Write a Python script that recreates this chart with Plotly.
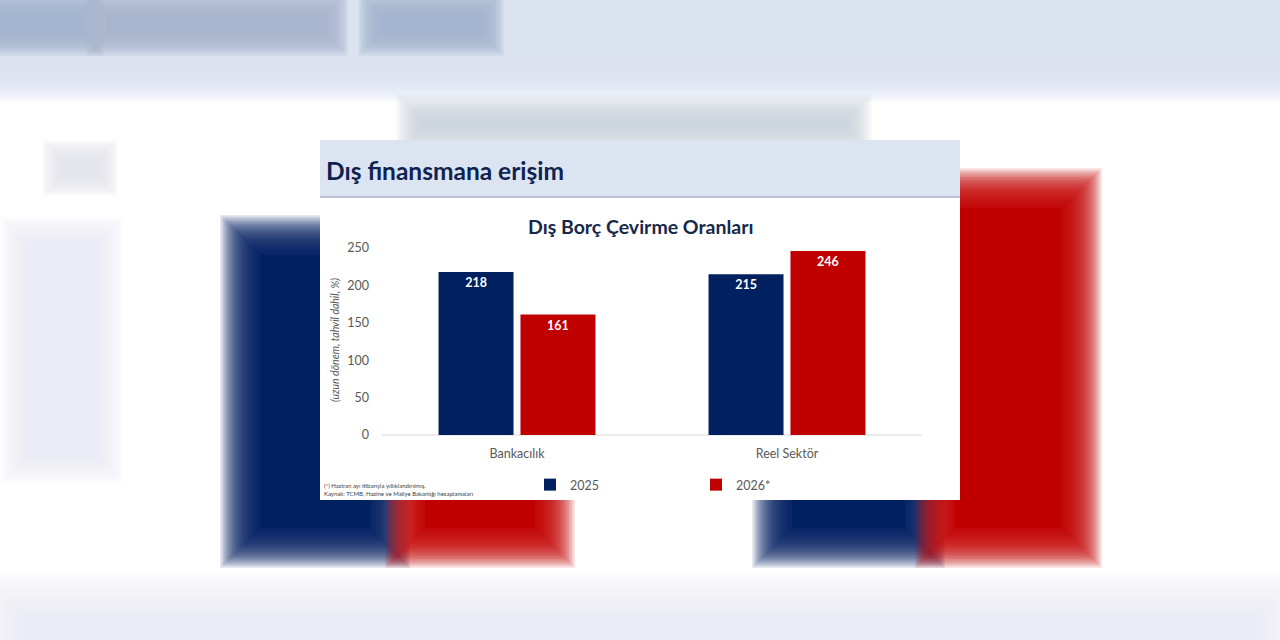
import plotly.graph_objects as go

# ---------------- data ----------------
categories = ["Bankacılık", "Reel Sektör"]
series_names = ["2025", "2026*"]
values_2025 = [218, 215]
values_2026 = [161, 246]
y_tick_values = [0, 50, 100, 150, 200, 250]

page_title = "Dış finansmana erişim"
chart_title = "Dış Borç Çevirme Oranları"
y_title = "(uzun dönem, tahvil dahil, %)"
footnotes = ["(*) Haziran ayı itibarıyla yıllıklandırılmış.",
             "Kaynak: TCMB, Hazine ve Maliye Bakanlığı hesaplamaları"]

NAVY = "#002060"
RED = "#C00000"
FONT = "Lato"

# plot area in pixels
PL, PR, PT, PB = 382, 922, 248, 435
W, H = 1280, 640


def px(x):
    return (x - PL) / (PR - PL)


def py(y):
    return (PB - y) / (PB - PT)


shapes = []


def rect(x0, y0, x1, y1, color, opacity=1.0, line=None):
    shapes.append(dict(type="rect", xref="paper", yref="paper",
                       x0=px(x0), x1=px(x1), y0=py(y1), y1=py(y0),
                       fillcolor=color, opacity=opacity,
                       line=line or dict(width=0), layer="below"))


def blur_rect(x0, y0, x1, y1, color, r=18, n=16, a=0.18, core=True):
    for i in range(n):
        e = r - 2 * r * i / (n - 1)
        rect(x0 - e, y0 - e, x1 + e, y1 + e, color, a)
    if core:
        rect(x0 + r, y0 + r, x1 - r, y1 - r, color, 1.0)


# ---- blurred background (page behind the chart) ----
rect(0, 0, W, H, "#ffffff")
blur_rect(-60, -60, W + 60, 80, "#dce3f0", r=22, a=0.2)
blur_rect(-20, 2, 92, 44, "#a3b2cc", r=12, a=0.16, core=False)
blur_rect(98, 4, 336, 44, "#a6b4cd", r=12, a=0.16, core=False)
blur_rect(370, 4, 492, 44, "#a3b2cc", r=12, a=0.16, core=False)
blur_rect(410, 108, 858, 140, "#c9ced7", r=14, a=0.1, core=False)
blur_rect(52, 150, 108, 186, "#dfe4ea", r=10, a=0.1, core=False)
blur_rect(14, 230, 110, 470, "#e9ecf1", r=14, a=0.1, core=False)
blur_rect(240, 235, 390, 548, NAVY, r=20, n=28, a=0.1)
blur_rect(405, 330, 555, 548, RED, r=20, n=28, a=0.1)
blur_rect(772, 320, 925, 548, NAVY, r=20, n=28, a=0.1)
blur_rect(935, 188, 1082, 548, RED, r=20, n=28, a=0.1)
blur_rect(0, 595, 1280, 700, "#eef0f3", r=24, a=0.1, core=False)

# ---- chart panel ----
rect(320, 140, 960, 500, "#ffffff")
rect(320, 140, 960, 197, "#dde4f1")
shapes.append(dict(type="line", xref="paper", yref="paper",
                   x0=px(320), x1=px(960), y0=py(197), y1=py(197),
                   line=dict(color="#a7b5cb", width=1.5), layer="below"))
shapes.append(dict(type="line", xref="paper", yref="paper",
                   x0=px(382), x1=px(922), y0=py(435), y1=py(435),
                   line=dict(color="#d9d9d9", width=1), layer="below"))

fig = go.Figure()
for name, vals, col in [(series_names[0], values_2025, NAVY),
                        (series_names[1], values_2026, RED)]:
    fig.add_bar(x=categories, y=vals, name=name, marker_color=col,
                marker_line_width=0,
                text=vals, texttemplate="<b>%{text}</b>",
                textposition="inside", insidetextanchor="end",
                textfont=dict(color="white", size=12.5, family=FONT),
                cliponaxis=False)

annotations = [
    dict(text="<b>" + page_title + "</b>", x=px(324), y=py(170),
         xanchor="left", yanchor="middle",
         font=dict(size=24.5, color="#0f2350", family=FONT)),
    dict(text="<b>" + chart_title + "</b>", x=px(640), y=py(226),
         xanchor="center", yanchor="middle",
         font=dict(size=19.5, color="#17284a", family=FONT)),
    dict(text="<i>" + y_title + "</i>", x=px(335), y=py(340), textangle=-90,
         xanchor="center", yanchor="middle",
         font=dict(size=10.5, color="#595959", family=FONT)),
    dict(text=footnotes[0], x=px(322), y=py(485), xanchor="left", yanchor="middle",
         font=dict(size=6, color="#404040", family=FONT)),
    dict(text=footnotes[1], x=px(322), y=py(493), xanchor="left", yanchor="middle",
         font=dict(size=6, color="#404040", family=FONT)),
]
for a in annotations:
    a.update(xref="paper", yref="paper", showarrow=False)

fig.update_layout(
    width=W, height=H,
    margin=dict(l=PL, r=W - PR, t=PT, b=H - PB, pad=0),
    paper_bgcolor="white", plot_bgcolor="rgba(0,0,0,0)",
    barmode="group", bargap=0.393, bargroupgap=0.085,
    shapes=shapes, annotations=annotations,
    font=dict(family=FONT, color="#595959", size=12),
    legend=dict(orientation="h", x=px(530), y=py(470), xanchor="left", yanchor="top",
                entrywidth=121, entrywidthmode="pixels", itemwidth=30,
                bgcolor="rgba(0,0,0,0)", font=dict(size=12.5, color="#595959")),
    xaxis=dict(showgrid=False, showline=False, zeroline=False, ticks="",
               tickfont=dict(size=12.5, color="#595959"), ticklabelstandoff=9,
               fixedrange=True),
    yaxis=dict(range=[0, 250], tickvals=y_tick_values, showgrid=False,
               showline=False, zeroline=False, ticks="",
               tickfont=dict(size=12.5, color="#595959"), ticklabelstandoff=12,
               fixedrange=True),
    showlegend=True,
)

fig.write_html("out.html", config={"displayModeBar": False},
               post_script="document.body.style.margin='0';document.body.style.overflow='hidden';")
